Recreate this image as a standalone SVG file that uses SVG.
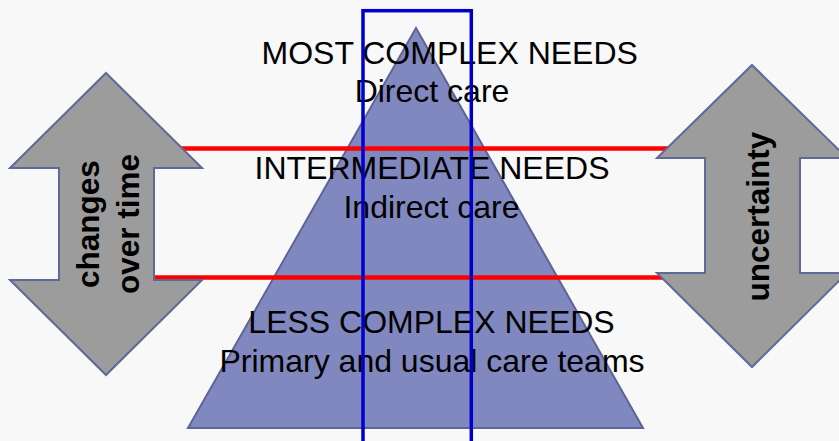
<svg xmlns="http://www.w3.org/2000/svg" width="839" height="441" viewBox="0 0 839 441">
  <style>
    .bg { fill: #f8f8f8; }
    .pyramid { fill: #8088bf; stroke: #5d6597; stroke-width: 2; }
    .band { stroke: #ff0000; stroke-width: 4.5; fill: none; }
    .arrow { fill: #9c9c9c; stroke: #5f6897; stroke-width: 2; stroke-linejoin: miter; }
    .frame { fill: none; stroke: #0000cc; stroke-width: 3.5; }
    .lbl { font-family: "Liberation Sans", Arial, sans-serif; font-size: 32px; fill: #000; text-anchor: middle; }
    .side { font-family: "Liberation Sans", Arial, sans-serif; font-size: 31.5px; font-weight: bold; fill: #000; text-anchor: middle; }
  </style>
  <rect class="bg" x="0" y="0" width="839" height="441"/>

  <g id="pyramid">
    <polygon class="pyramid" points="416,28 643,428 188,428"/>
  </g>

  <g id="connectors">
    <line class="band" x1="150" y1="148.5" x2="700" y2="148.5"/>
    <line class="band" x1="150" y1="277.5" x2="700" y2="277.5"/>
  </g>

  <g id="changes-over-time">
    <polygon class="arrow" points="106,73 202,168 154,168 154,280 202,280 106,375 10,280 59,280 59,168 10,168"/>
    <text class="side" transform="translate(99,224) rotate(-90)">changes</text>
    <text class="side" transform="translate(139,224) rotate(-90)">over time</text>
  </g>

  <g id="uncertainty">
    <polygon class="arrow" points="752,65 847,158 800,158 800,273 847,273 752,367 657,273 705,273 705,158 657,158"/>
    <text class="side" transform="translate(769,216.7) rotate(-90)">uncertainty</text>
  </g>

  <g id="most-complex">
    <text class="lbl" x="449.7" y="64.3">MOST COMPLEX NEEDS</text>
    <text class="lbl" x="432" y="101.7">Direct care</text>
  </g>

  <g id="intermediate">
    <text class="lbl" x="432" y="179.3">INTERMEDIATE NEEDS</text>
    <text class="lbl" x="431.5" y="218.3">Indirect care</text>
  </g>

  <g id="less-complex">
    <text class="lbl" x="431.5" y="333.3">LESS COMPLEX NEEDS</text>
    <text class="lbl" x="432" y="371.7">Primary and usual care teams</text>
  </g>

  <g id="focus-frame">
    <rect class="frame" x="363" y="10.7" width="108.3" height="450"/>
  </g>
</svg>
